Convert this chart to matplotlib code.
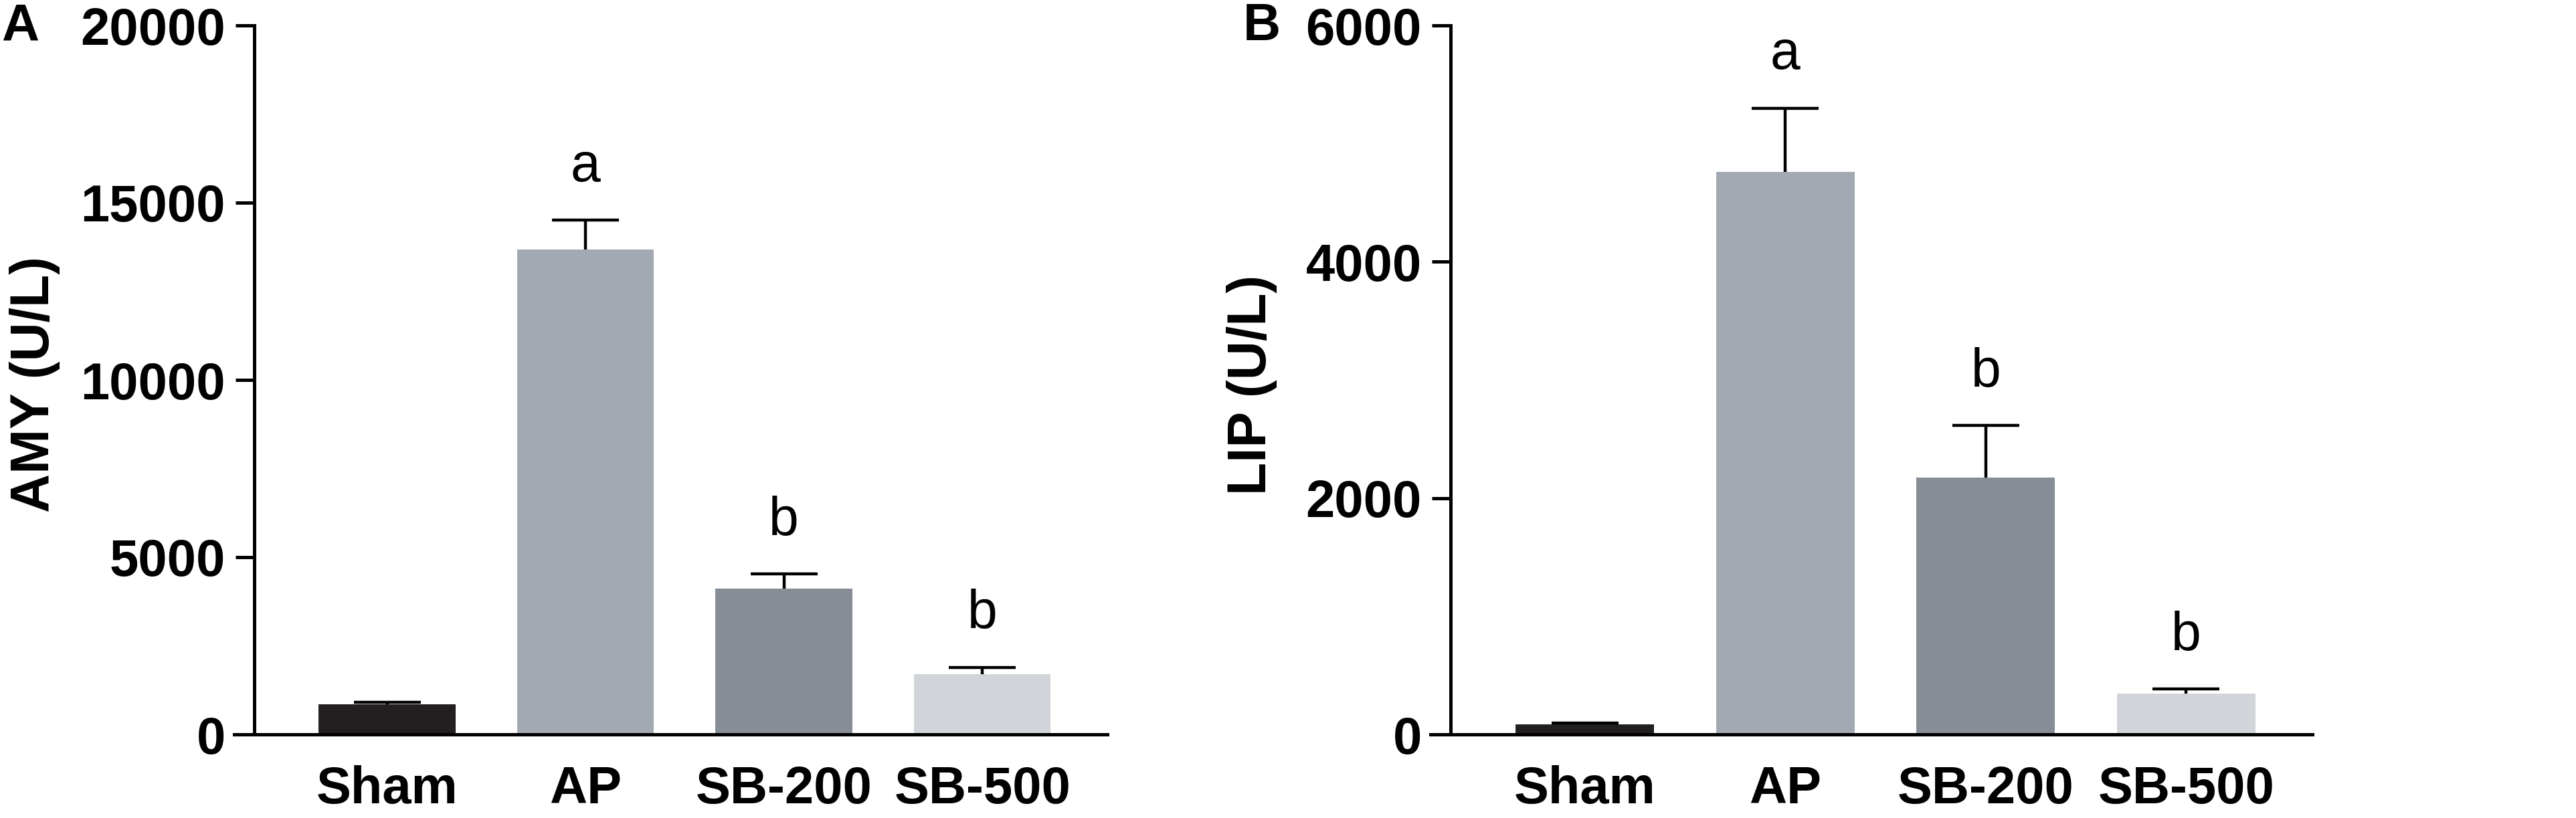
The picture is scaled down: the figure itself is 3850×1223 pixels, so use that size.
import matplotlib

matplotlib.use("Agg")
import matplotlib.pyplot as plt

plt.rcParams["font.family"] = ["Liberation Sans", "DejaVu Sans"]

groups = ["Sham", "AP", "SB-200", "SB-500"]
bar_colors = ["#231F20", "#A3A9B3", "#878D96", "#D1D4D8"]

amy_mean = [850, 13680, 4120, 1690]
amy_err = [60, 820, 410, 200]
amy_letters = ["", "a", "b", "b"]

lip_mean = [85, 4760, 2175, 345]
lip_err = [12, 540, 440, 40]
lip_letters = ["", "a", "b", "b"]

W, H = 3850, 1223
fig = plt.figure(figsize=(W / 100, H / 100), dpi=100)

LW = 3.6


def panel(left_px, right_px, means, errs, letters, ymax, yticks, ylabel, label_x, tag, tag_x):
    bottom_px, top_px = 1098, 38
    ax = fig.add_axes([
        left_px / W,
        (H - bottom_px) / H,
        (right_px - left_px) / W,
        (bottom_px - top_px) / H,
    ])
    x = list(range(len(groups)))
    ax.bar(x, means, width=0.69, color=bar_colors, edgecolor="none", zorder=2)
    _, caps, _ = ax.errorbar(
        x,
        means,
        yerr=[[0] * len(errs), errs],
        fmt="none",
        ecolor="black",
        elinewidth=3.2,
        capsize=36,
        capthick=3.2,
        zorder=3,
    )
    # upper bars only, hide the caps sitting on the bar tops
    caps[0].set_visible(False)
    for xi, m, e, t in zip(x, means, errs, letters):
        if t:
            ax.annotate(
                t,
                xy=(xi, m + e),
                xytext=(0, 42),
                textcoords="offset points",
                ha="center",
                va="baseline",
                fontsize=58,
            )
    ax.set_xlim(-0.67, 3.63)
    ax.set_ylim(0, ymax)
    ax.set_yticks(yticks)
    ax.set_xticks(x)
    ax.set_xticklabels(groups, fontsize=56, fontweight="bold")
    ax.tick_params(axis="x", length=0, pad=33)
    ax.tick_params(axis="y", length=20, width=LW, pad=11, labelsize=56)
    for lab in ax.get_yticklabels():
        lab.set_fontweight("bold")
    for side in ("top", "right"):
        ax.spines[side].set_visible(False)
    for side in ("left", "bottom"):
        ax.spines[side].set_linewidth(LW)
    ax.spines["bottom"].set_bounds(-0.77, 3.63)
    fig.text(label_x / W, 1 - 575 / H, ylabel, rotation=90, ha="center", va="center",
             fontsize=58, fontweight="bold")
    fig.text(tag_x / W, 1 - 3 / H, tag, ha="left", va="top", fontsize=56, fontweight="bold")
    return ax


panel(380, 1655, amy_mean, amy_err, amy_letters, 20000,
      [0, 5000, 10000, 15000, 20000], "AMY (U/L)", 52, "A", 2)
panel(2168, 3456, lip_mean, lip_err, lip_letters, 6000,
      [0, 2000, 4000, 6000], "LIP (U/L)", 1871, "B", 1858)

fig.savefig("out.png", dpi=100)
